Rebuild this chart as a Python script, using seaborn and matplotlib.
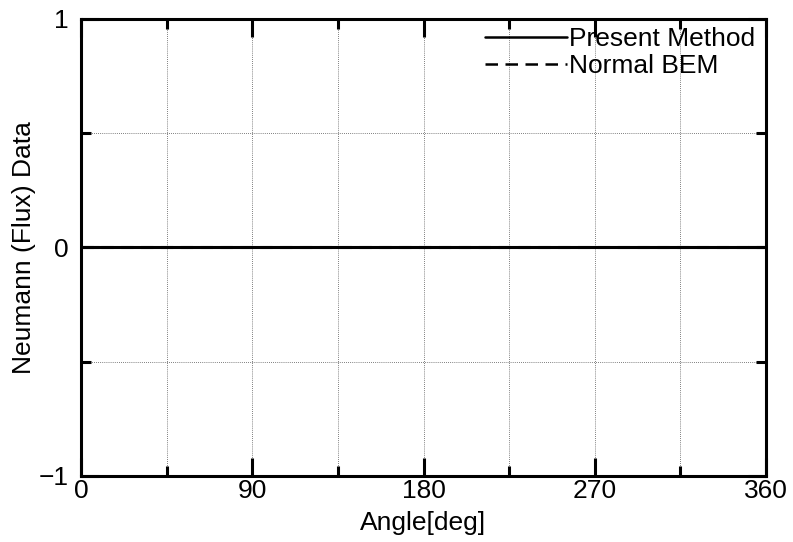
import matplotlib
matplotlib.use("Agg")
import matplotlib.pyplot as plt
from matplotlib.ticker import MultipleLocator, FixedLocator
import pandas as pd
import seaborn as sns

# Flux along the boundary, sampled by angle
angle_deg = [0, 45, 90, 135, 180, 225, 270, 315, 360]
present_method = [0, 0, 0, 0, 0, 0, 0, 0, 0]
normal_bem = [0, 0, 0, 0, 0, 0, 0, 0, 0]

x_ticks = [0, 90, 180, 270, 360]
y_ticks = [-1, 0, 1]

sns.set_theme(style="white")
plt.rcParams["font.family"] = ["Liberation Sans", "DejaVu Sans"]
plt.rcParams["text.color"] = "black"

df = pd.DataFrame({
    "angle": angle_deg * 2,
    "flux": present_method + normal_bem,
    "method": ["Present Method"] * len(angle_deg) + ["Normal BEM"] * len(angle_deg),
})

fig = plt.figure(figsize=(7.93, 5.42), dpi=100)
ax = fig.add_axes([0.1021, 0.1218, 0.8639, 0.8432])

sns.lineplot(data=df, x="angle", y="flux", style="method",
             dashes={"Present Method": "", "Normal BEM": (4, 2.5)},
             color="black", linewidth=2.2, ax=ax, legend=True)

ax.set_xlim(0, 360)
ax.set_ylim(-1, 1)
ax.xaxis.set_major_locator(FixedLocator(x_ticks))
ax.xaxis.set_minor_locator(MultipleLocator(45))
ax.yaxis.set_major_locator(FixedLocator(y_ticks))
ax.yaxis.set_minor_locator(MultipleLocator(0.5))
ax.set_xticklabels([str(v) for v in x_ticks])
ax.set_yticklabels(["\u22121", "0", "1"])

ax.grid(True, which="both", linestyle=(0, (1, 1.5)), linewidth=0.6, color="#555555")
ax.set_axisbelow(True)

for s in ax.spines.values():
    s.set_linewidth(2.2)
    s.set_color("black")

ax.tick_params(which="both", direction="in", top=True, right=True,
               bottom=True, left=True,
               color="black", width=2.2, labelsize=19, labelcolor="black")
ax.tick_params(which="major", length=13)
ax.tick_params(which="minor", length=7)
ax.tick_params(axis="x", which="major", pad=2)
ax.tick_params(axis="y", which="major", pad=9)

ax.set_xlabel("Angle[deg]", fontsize=19, labelpad=6, color="black")
ax.set_ylabel("Neumann (Flux) Data", fontsize=19, labelpad=2, color="black")

leg = ax.legend(loc="upper right", frameon=False, fontsize=19,
                handlelength=3.1, handletextpad=0.1, borderaxespad=0.0,
                bbox_to_anchor=(1.0, 1.005), labelspacing=0.1)
for h in leg.get_lines():
    h.set_linewidth(1.8)
leg.get_lines()[1].set_dashes((5, 3))
for t in leg.get_texts():
    t.set_color("black")

fig.savefig("out.png", dpi=100)
